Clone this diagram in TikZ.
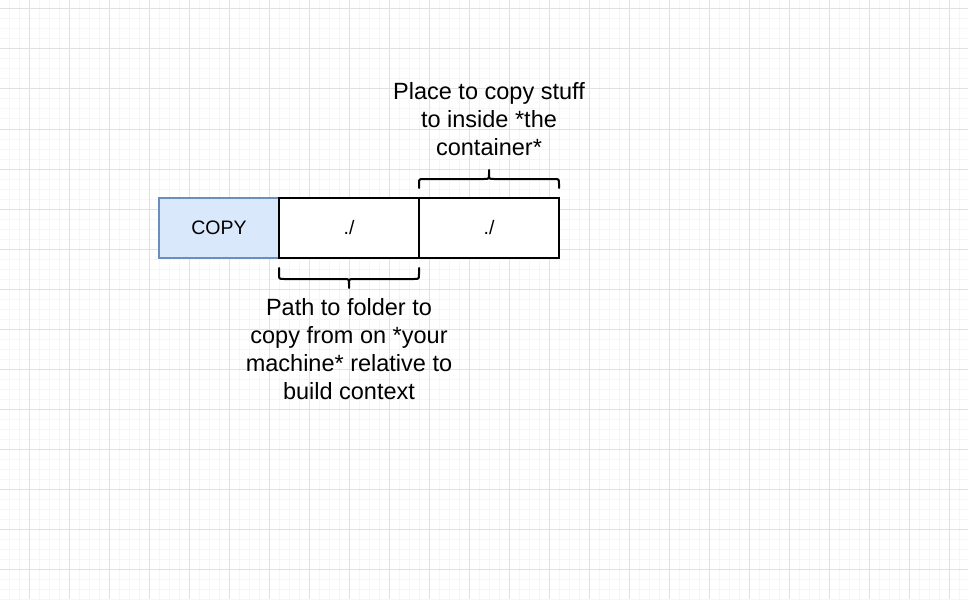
\documentclass[tikz,border=0pt]{standalone}
\usepackage{fontspec}
\setmainfont{Liberation Sans}
\definecolor{gridminor}{HTML}{F6F6F6}
\definecolor{gridmajor}{HTML}{E1E1E1}
\definecolor{copyfill}{HTML}{DAE8FC}
\definecolor{copydraw}{HTML}{6C8EBF}
\tikzset{
  cell/.style={draw=black, line width=2pt, fill=white, minimum width=140pt, minimum height=60pt, inner sep=0pt, font=\fontsize{19.5}{22}\selectfont},
  copycell/.style={draw=copydraw, line width=1.5pt, fill=copyfill, minimum width=120pt, minimum height=60pt, inner sep=0pt, font=\fontsize{19.5}{22}\selectfont},
  bracepath/.style={line width=2pt, line cap=round, line join=round},
  note/.style={align=center, inner sep=0pt, font=\fontsize{23.5}{28}\selectfont},
}
\begin{document}
\begin{tikzpicture}[x=1pt,y=-1pt]
\useasboundingbox (0,0) rectangle (968,599);
\fill[white] (0,0) rectangle (968,599);
\foreach \i in {-1,...,97} {\draw[gridminor, line width=1pt] (9+10*\i,0) -- (9+10*\i,599);}
\foreach \j in {0,...,59} {\draw[gridminor, line width=1pt] (0,9+10*\j) -- (968,9+10*\j);}
\foreach \i in {-1,...,24} {\draw[gridmajor, line width=1pt] (29+40*\i,0) -- (29+40*\i,599);}
\foreach \j in {0,...,15} {\draw[gridmajor, line width=1pt] (0,9+40*\j) -- (968,9+40*\j);}
% boxes
\node[copycell] (copy) at (219,228) {COPY};
\node[cell] (src) at (349,228) {./};
\node[cell] (dst) at (489,228) {./};
% braces
\coordinate (topl) at (419,188);
\coordinate (topr) at (559,188);
\coordinate (topt) at (489,170);
\draw[bracepath] (topl) -- (419,184) .. controls (419,179) .. (424,179) -- (484,179) .. controls (489,179) .. (489,174) -- (topt) -- (489,174) .. controls (489,179) .. (494,179) -- (554,179) .. controls (559,179) .. (559,184) -- (topr);
\coordinate (botl) at (279,268);
\coordinate (botr) at (419,268);
\coordinate (bott) at (349,288);
\draw[bracepath] (botl) -- (279,274) .. controls (279,279) .. (284,279) -- (344,279) .. controls (349,279) .. (349,284) -- (bott) -- (349,284) .. controls (349,279) .. (354,279) -- (414,279) .. controls (419,279) .. (419,274) -- (botr);
% notes
\node[note, anchor=base] (topnote) at (489,155) {Place to copy stuff\\to inside *the\\container*};
\node[note, anchor=base] (botnote) at (349,399) {Path to folder to\\copy from on *your\\machine* relative to\\build context};
\end{tikzpicture}
\end{document}
